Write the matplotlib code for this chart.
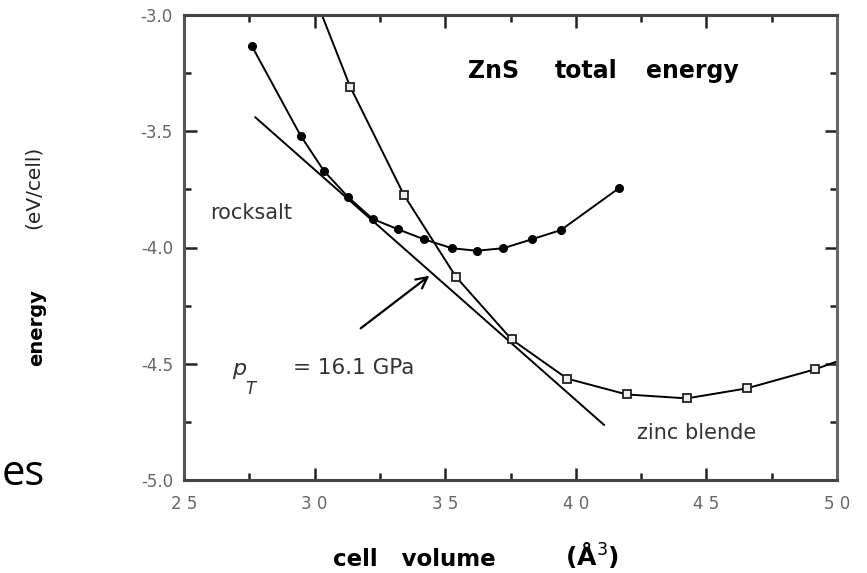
import matplotlib
matplotlib.use('Agg')
import matplotlib.pyplot as plt
from matplotlib.ticker import MultipleLocator, FixedLocator

# rocksalt phase (filled circles)
rs_vol = [27.59, 29.47, 30.36, 31.29, 32.22, 33.20, 34.20, 35.25, 36.20,
          37.23, 38.31, 39.43, 41.65]
rs_e = [-3.132, -3.52, -3.671, -3.784, -3.877, -3.922, -3.965, -4.003,
        -4.014, -4.003, -3.965, -3.925, -3.745]

# zinc blende phase (open squares)
zb_vol = [31.36, 33.42, 35.41, 37.54, 39.67, 41.95, 44.25, 46.54, 49.16]
zb_e = [-3.308, -3.774, -4.126, -4.395, -4.564, -4.632, -4.649, -4.606, -4.524]
# where the zinc blende curve leaves the frame
zb_top = (30.28, -3.0)
zb_right = (50.0, -4.49)

# common tangent
tan_vol = [27.73, 41.08]
tan_e = [-3.44, -4.763]

arrow_from = (31.68, -4.355)
arrow_to = (34.48, -4.114)

x_ticks = [25, 30, 35, 40, 45, 50]
x_labels = ['2 5', '3 0', '3 5', '4 0', '4 5', '5 0']
y_ticks = [-5.0, -4.5, -4.0, -3.5, -3.0]
y_labels = ['-5.0', '-4.5', '-4.0', '-3.5', '-3.0']

W, H = 867, 573
fig = plt.figure(figsize=(W / 100, H / 100), dpi=100)
ax = fig.add_axes([184 / W, 1 - 480 / H, 653 / W, 465 / H])

ax.plot([zb_top[0]] + zb_vol + [zb_right[0]], [zb_top[1]] + zb_e + [zb_right[1]],
        color='black', lw=1.4, zorder=2)
ax.plot(zb_vol, zb_e, 's', ms=6, mfc='#eeeeee', mec='#222222', mew=1.3, zorder=3)
ax.plot(rs_vol, rs_e, '-o', color='black', lw=1.4, ms=5.5, zorder=3)
ax.plot(tan_vol, tan_e, color='black', lw=1.4, zorder=2)

ax.annotate('', xy=arrow_to, xytext=arrow_from,
            arrowprops=dict(arrowstyle='->', lw=1.6, color='black', mutation_scale=20))

ax.set_xlim(25, 50)
ax.set_ylim(-5.0, -3.0)
ax.xaxis.set_major_locator(FixedLocator(x_ticks))
ax.yaxis.set_major_locator(FixedLocator(y_ticks))
ax.set_xticklabels(x_labels)
ax.set_yticklabels(y_labels)
ax.xaxis.set_minor_locator(MultipleLocator(2.5))
ax.yaxis.set_minor_locator(MultipleLocator(0.25))
ax.tick_params(which='both', direction='in', top=True, right=True,
               width=1.8, color='#222222', labelcolor='#666666', labelsize=12)
ax.tick_params(which='major', length=9)
ax.tick_params(which='minor', length=5)
ax.tick_params(axis='x', pad=11)
ax.tick_params(axis='y', pad=8)
for side, c in [('left', '#555555'), ('bottom', '#444444'),
                ('top', '#444444'), ('right', '#666666')]:
    ax.spines[side].set_color(c)
    ax.spines[side].set_linewidth(2.2)

# labels inside the frame
ax.text(0.435, 0.879, 'ZnS', transform=ax.transAxes, fontsize=17,
        fontweight='bold', va='center')
ax.text(0.567, 0.879, 'total', transform=ax.transAxes, fontsize=17,
        fontweight='bold', va='center')
ax.text(0.707, 0.879, 'energy', transform=ax.transAxes, fontsize=17,
        fontweight='bold', va='center')
ax.text(0.04, 0.575, 'rocksalt', transform=ax.transAxes, fontsize=15,
        color='#333333', va='center')
ax.text(0.694, 0.101, 'zinc blende', transform=ax.transAxes, fontsize=15,
        color='#333333', va='center')
ax.text(0.074, 0.238, 'p', transform=ax.transAxes, fontsize=16, style='italic',
        color='#333333', va='center')
ax.text(0.094, 0.195, 'T', transform=ax.transAxes, fontsize=12, style='italic',
        color='#333333', va='center')
ax.text(0.167, 0.24, '= 16.1 GPa', transform=ax.transAxes, fontsize=15.5,
        color='#333333', va='center')

# axis labels placed like the scanned figure
fig.text(414 / W, 1 - 560 / H, 'cell   volume', fontsize=16.5, fontweight='bold',
         ha='center', va='center')
fig.text(592 / W, 1 - 555 / H, r'($\mathbf{\AA}^{3}$)', fontsize=18, fontweight='bold',
         ha='center', va='center')
fig.text(37 / W, 1 - 328 / H, 'energy', fontsize=14, fontweight='bold',
         rotation=90, ha='center', va='center')
fig.text(33 / W, 1 - 187 / H, '(eV/cell)', fontsize=14.5, rotation=90,
         ha='center', va='center', color='#222222')

# leftover slide text at the left edge
fig.text(2 / W, 1 - 485 / H, 'es', fontsize=30, family='Open Sans',
         ha='left', va='baseline')

fig.savefig('out.png', dpi=100)
